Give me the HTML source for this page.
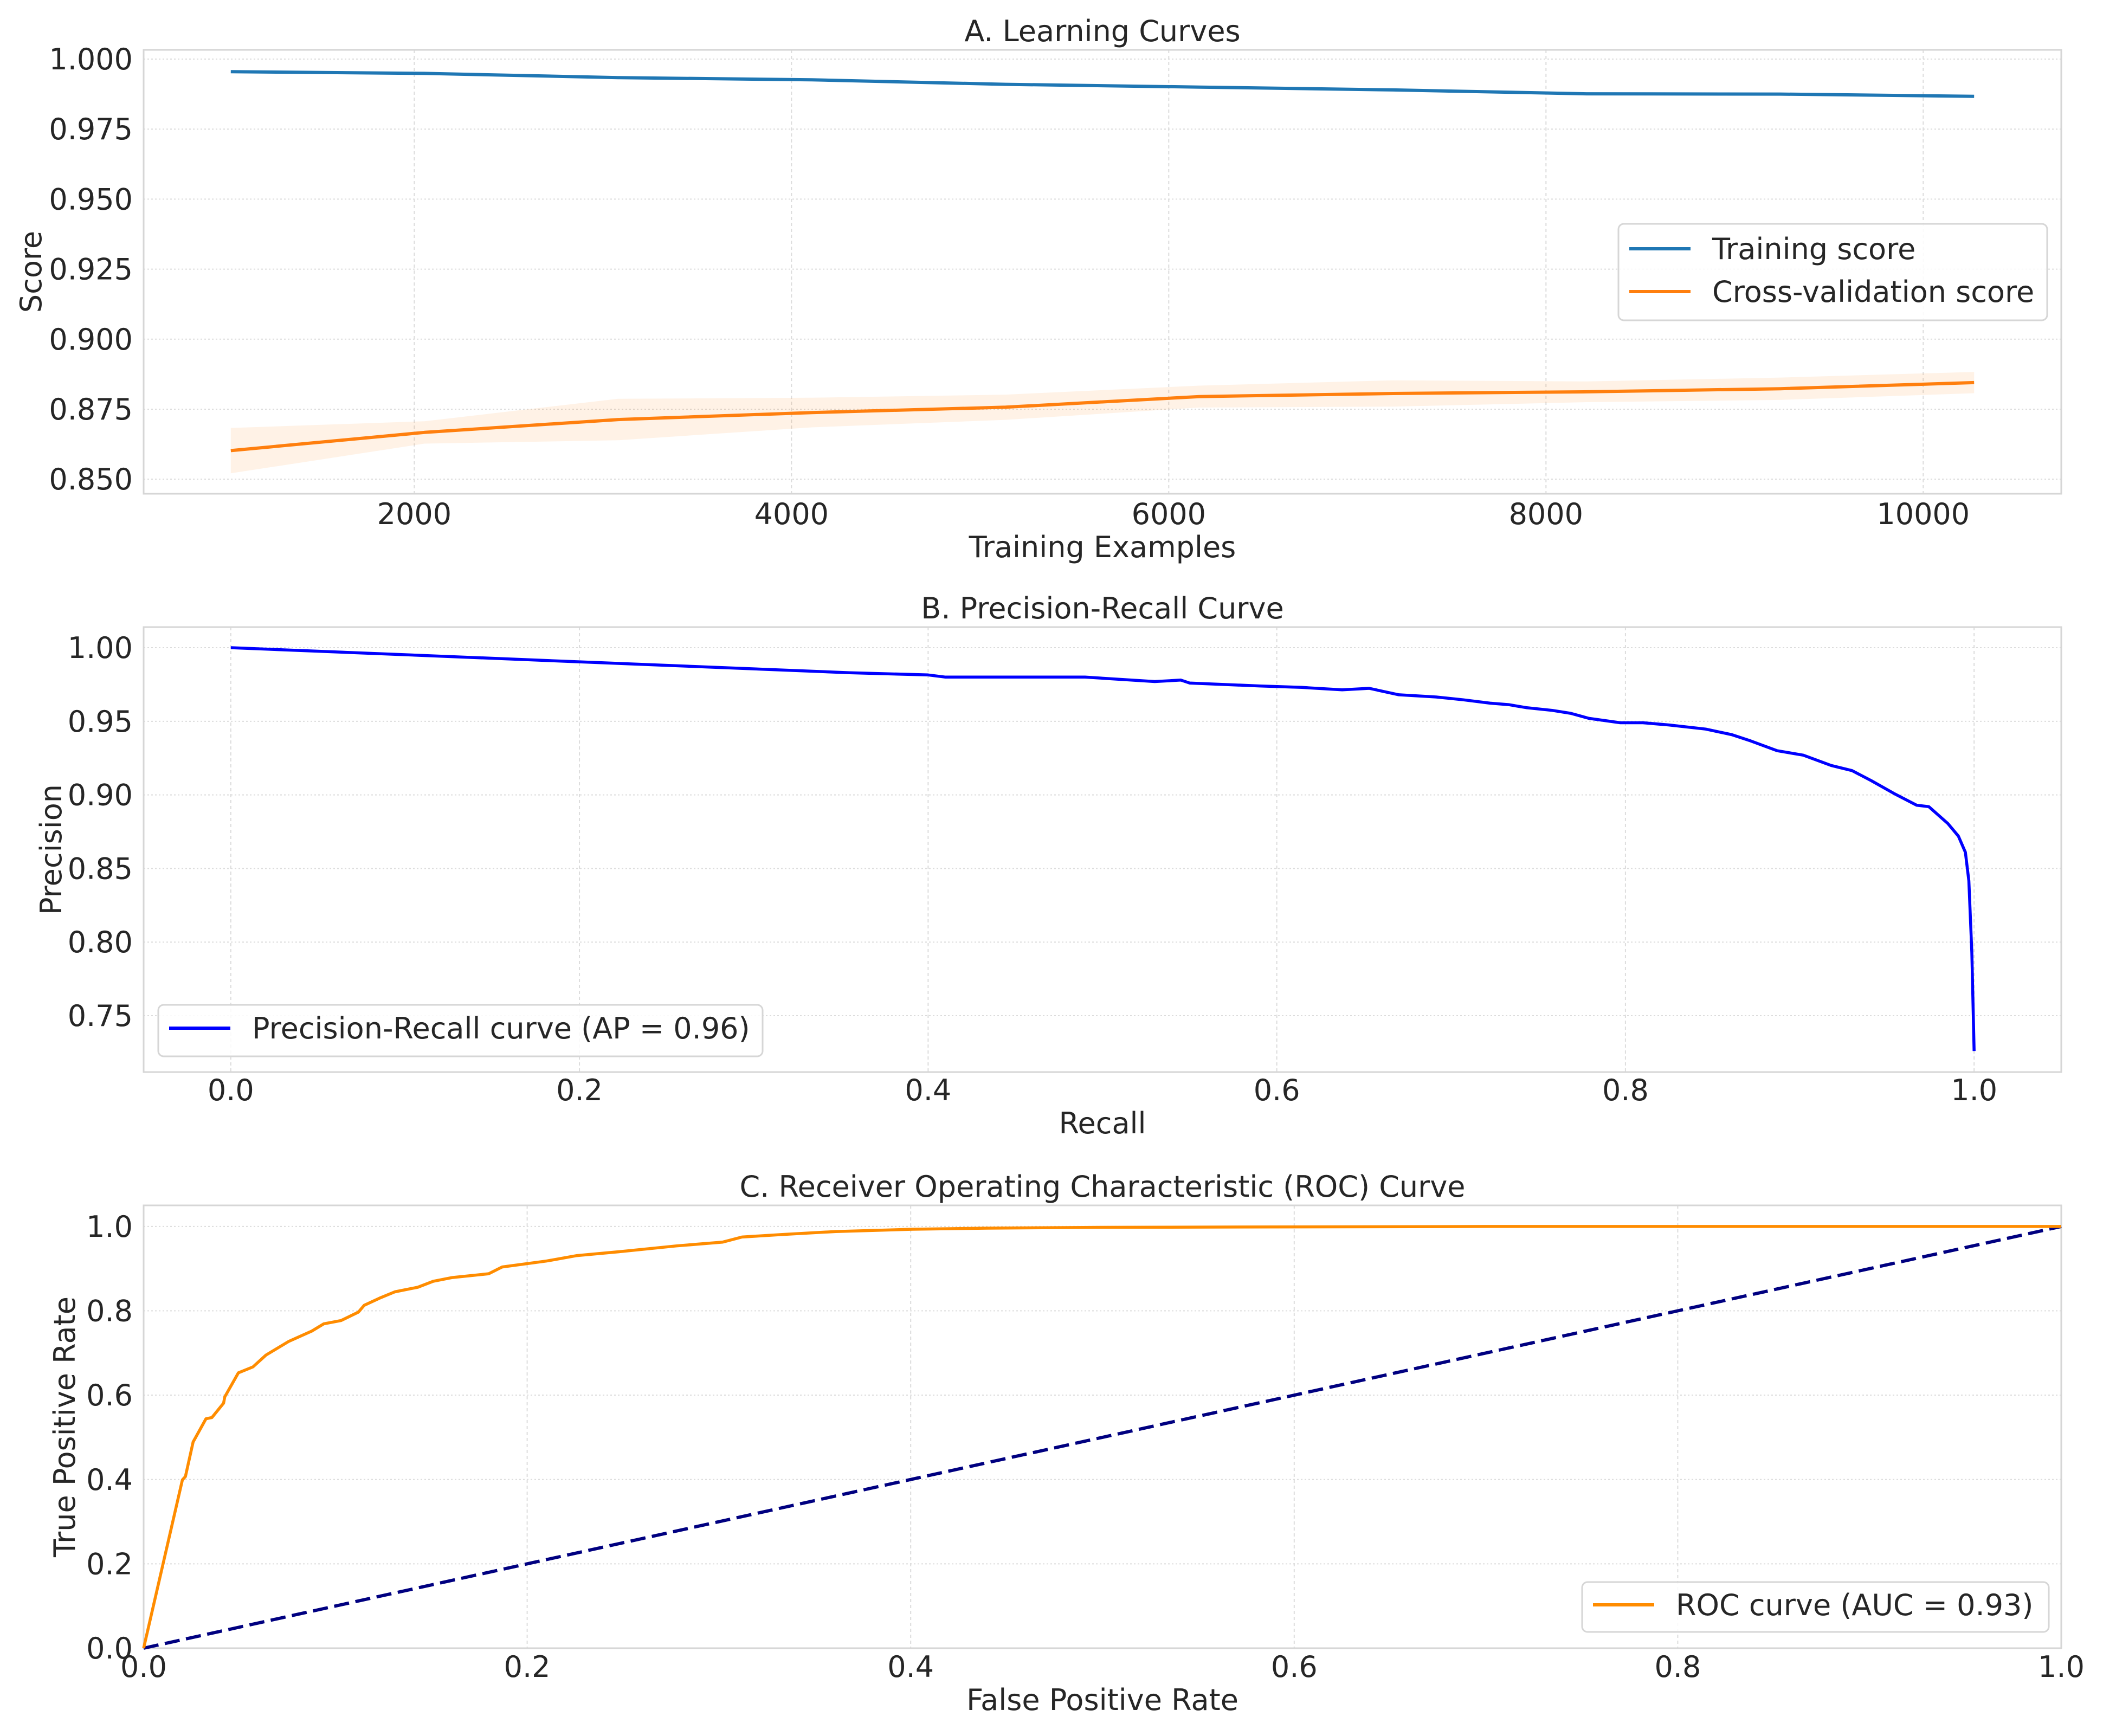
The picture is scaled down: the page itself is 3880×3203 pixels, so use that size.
<!DOCTYPE html>
<html><head><meta charset="utf-8">
<style>
html,body{margin:0;padding:0;background:#fff;}
svg{display:block;font-family:"DejaVu Sans","Liberation Sans",sans-serif;}
text{fill:#262626;}
</style></head>
<body>
<svg id="fig" width="3880" height="3203" viewBox="0 0 3880 3203" xmlns="http://www.w3.org/2000/svg"></svg>
<script>
// ---- Panel A data ----
const trainSizes = [1027, 2054, 3081, 4108, 5135, 6162, 7189, 8216, 9243, 10270];
const trainScore = [0.9955, 0.9949, 0.9934, 0.9926, 0.9910, 0.9900, 0.9890, 0.9876, 0.9875, 0.9867];
const trainStd = [0.0003, 0.0003, 0.0003, 0.0003, 0.0003, 0.0003, 0.0003, 0.0003, 0.0003, 0.0003];
const cvScore = [0.8602, 0.8667, 0.8713, 0.8738, 0.8757, 0.8795, 0.8806, 0.8812, 0.8823, 0.8845];
const cvStd = [0.0081, 0.0040, 0.0074, 0.0053, 0.0045, 0.0039, 0.0047, 0.0037, 0.0040, 0.0038];
const aXTicks = [2000, 4000, 6000, 8000, 10000];
const aYTicks = [0.850, 0.875, 0.900, 0.925, 0.950, 0.975, 1.000];
// ---- Panel B data ----
const prRecall = [0, 0.2, 0.355, 0.40, 0.41, 0.49, 0.53, 0.545, 0.55, 0.59, 0.6144, 0.6375, 0.653, 0.670, 0.6915, 0.707, 0.7224, 0.733, 0.743, 0.758, 0.7686, 0.779, 0.797, 0.81, 0.825, 0.846, 0.861, 0.871, 0.887, 0.902, 0.918, 0.930, 0.941, 0.954, 0.967, 0.974, 0.985, 0.991, 0.995, 0.997, 0.9987, 1.0];
const prPrecision = [1.0, 0.9904, 0.983, 0.9815, 0.980, 0.980, 0.977, 0.978, 0.976, 0.974, 0.973, 0.9714, 0.9724, 0.968, 0.9665, 0.9646, 0.9623, 0.9613, 0.9593, 0.9574, 0.9554, 0.952, 0.949, 0.949, 0.9475, 0.9447, 0.9409, 0.937, 0.930, 0.927, 0.920, 0.9165, 0.9097, 0.901, 0.893, 0.892, 0.8805, 0.872, 0.861, 0.8416, 0.793, 0.726];
const bXTicks = [0.0, 0.2, 0.4, 0.6, 0.8, 1.0];
const bYTicks = [0.75, 0.80, 0.85, 0.90, 0.95, 1.00];
// ---- Panel C data ----
const rocFpr = [0, 0.0202, 0.0218, 0.0258, 0.0325, 0.0356, 0.0417, 0.0423, 0.0494, 0.057, 0.0638, 0.0755, 0.0877, 0.0939, 0.103, 0.112, 0.115, 0.123, 0.131, 0.143, 0.151, 0.161, 0.180, 0.187, 0.210, 0.226, 0.250, 0.278, 0.302, 0.312, 0.333, 0.361, 0.401, 0.440, 0.50, 0.70, 1.0];
const rocTpr = [0, 0.399, 0.407, 0.489, 0.544, 0.547, 0.581, 0.596, 0.653, 0.667, 0.695, 0.727, 0.752, 0.769, 0.777, 0.797, 0.813, 0.830, 0.845, 0.856, 0.870, 0.879, 0.888, 0.904, 0.918, 0.931, 0.941, 0.954, 0.963, 0.975, 0.981, 0.988, 0.9935, 0.996, 0.998, 1.0, 1.0];
const chanceX = [0, 1];
const chanceY = [0, 1];
const cTicks = [0.0, 0.2, 0.4, 0.6, 0.8, 1.0];

const NS = "http://www.w3.org/2000/svg";
const svg = document.getElementById("fig");
function mk(tag, attrs, parent) {
  const e = document.createElementNS(NS, tag);
  for (const k in attrs) e.setAttribute(k, attrs[k]);
  (parent || svg).appendChild(e);
  return e;
}
const FS = 54;
const L = 265, R = 3803;

function scale(d0, d1, r0, r1) { return v => r0 + (v - d0) / (d1 - d0) * (r1 - r0); }

function axesFrame(top, bottom, sx, sy, xt, yt, xfmt, yfmt, name, xlabel, ylabel, ylabX, title, tickY) {
  const g = mk("g", {});
  
  
  yt.forEach(v => {
    const y = sy(v);
    const ln = mk("line", {x1: L, x2: R, y1: y, y2: y, stroke: "#dcdcdc", "stroke-width": 2, "stroke-dasharray": "3 4"}, g);
    
    
    const t = mk("text", {x: 245, y: y + 19, "text-anchor": "end", "font-size": FS}, g);
    
    
    t.textContent = yfmt(v);
  });
  xt.forEach(v => {
    const x = sx(v);
    const ln = mk("line", {x1: x, x2: x, y1: top, y2: bottom, stroke: "#dcdcdc", "stroke-width": 2, "stroke-dasharray": "6 5"}, g);
    
    
    const t = mk("text", {x: x, y: tickY + 19, "text-anchor": "middle", "font-size": FS}, g);
    
    
    t.textContent = xfmt(v);
  });
  const fr = mk("rect", {x: L, y: top, width: R - L, height: bottom - top, fill: "none", stroke: "#d6d6d6", "stroke-width": 3}, g);
  
  
  const tt = mk("text", {x: (L + R) / 2, y: top - 16, "text-anchor": "middle", "font-size": FS});
  
  
  tt.textContent = title;
  const xl = mk("text", {x: (L + R) / 2, y: tickY + 80, "text-anchor": "middle", "font-size": FS});
  
  
  xl.textContent = xlabel;
  const cy = (top + bottom) / 2;
  const yl = mk("text", {x: ylabX, y: cy, "text-anchor": "middle", "font-size": FS, transform: `rotate(-90 ${ylabX} ${cy})`, dy: 19});
  
  
  yl.textContent = ylabel;
}
function pathD(xs, ys, sx, sy) {
  return xs.map((v, i) => (i ? "L" : "M") + sx(v).toFixed(1) + " " + sy(ys[i]).toFixed(1)).join(" ");
}
function legend(name, x, y, w, h, items) {
  const g = mk("g", {});
  
  
  const r = mk("rect", {x: x, y: y, width: w, height: h, rx: 10, fill: "#fff", "fill-opacity": 0.85, stroke: "#d6d6d6", "stroke-width": 3}, g);
  
  
  items.forEach(it => {
    const ln = mk("line", {x1: x + 20, x2: x + 133, y1: it.y, y2: it.y, stroke: it.color, "stroke-width": 6, "stroke-dasharray": it.dash || "none"}, g);
    
    
    const t = mk("text", {x: x + 173, y: it.y + 19, "font-size": FS}, g);
    
    
    t.textContent = it.label;
  });
}

// ===== Panel A =====
(function () {
  const top = 92, bottom = 911;
  const sx = scale(565, 10732, L, R);
  const sy = scale(0.8448, 1.0033, bottom, top);
  axesFrame(top, bottom, sx, sy, aXTicks, aYTicks, v => String(v), v => v.toFixed(3), "learning-curve", "Training Examples", "Score", 57, "A. Learning Curves", 948);
  const up = cvScore.map((v, i) => v + cvStd[i]);
  const dn = cvScore.map((v, i) => v - cvStd[i]);
  const band = mk("path", {d: pathD(trainSizes, up, sx, sy) + " " + pathD(trainSizes.slice().reverse(), dn.slice().reverse(), sx, sy).replace("M", "L") + " Z", fill: "#ff7f0e", "fill-opacity": 0.1, stroke: "none"});
  
  
  const tup = trainScore.map((v, i) => v + trainStd[i]);
  const tdn = trainScore.map((v, i) => v - trainStd[i]);
  const tband = mk("path", {d: pathD(trainSizes, tup, sx, sy) + " " + pathD(trainSizes.slice().reverse(), tdn.slice().reverse(), sx, sy).replace("M", "L") + " Z", fill: "#1f77b4", "fill-opacity": 0.1, stroke: "none"});
  
  
  const l1 = mk("path", {d: pathD(trainSizes, trainScore, sx, sy), fill: "none", stroke: "#1f77b4", "stroke-width": 6, "stroke-linejoin": "round"});
  
  
  const l2 = mk("path", {d: pathD(trainSizes, cvScore, sx, sy), fill: "none", stroke: "#ff7f0e", "stroke-width": 6, "stroke-linejoin": "round"});
  
  
  legend("learning-curve-legend", 2986, 413, 791, 178, [
    {y: 459, color: "#1f77b4", label: "Training score"},
    {y: 538, color: "#ff7f0e", label: "Cross-validation score"}]);
})();

// ===== Panel B =====
(function () {
  const top = 1157, bottom = 1978;
  const sx = scale(-0.05, 1.05, L, R);
  const sy = scale(0.7117, 1.014, bottom, top);
  axesFrame(top, bottom, sx, sy, bXTicks, bYTicks, v => v.toFixed(1), v => v.toFixed(2), "pr-curve", "Recall", "Precision", 94, "B. Precision-Recall Curve", 2011);
  const l = mk("path", {d: pathD(prRecall, prPrecision, sx, sy), fill: "none", stroke: "#0000ff", "stroke-width": 5.5, "stroke-linejoin": "round"});
  
  
  legend("pr-curve-legend", 292, 1854, 1115, 95, [
    {y: 1897, color: "#0000ff", label: "Precision-Recall curve (AP = 0.96)"}]);
})();

// ===== Panel C =====
(function () {
  const top = 2224, bottom = 3041;
  const sx = scale(0, 1, L, R);
  const sy = scale(0, 1.05, bottom, top);
  axesFrame(top, bottom, sx, sy, cTicks, cTicks, v => v.toFixed(1), v => v.toFixed(1), "roc-curve", "False Positive Rate", "True Positive Rate", 119, "C. Receiver Operating Characteristic (ROC) Curve", 3075);
  const d = mk("path", {d: pathD(chanceX, chanceY, sx, sy), fill: "none", stroke: "#000080", "stroke-width": 6, "stroke-dasharray": "28 12"});
  
  
  const l = mk("path", {d: pathD(rocFpr, rocTpr, sx, sy), fill: "none", stroke: "#ff8c00", "stroke-width": 5.5, "stroke-linejoin": "round"});
  
  
  legend("roc-curve-legend", 2919, 2919, 861, 92, [
    {y: 2961, color: "#ff8c00", label: "ROC curve (AUC = 0.93)"}]);
})();
</script>
</body></html>
